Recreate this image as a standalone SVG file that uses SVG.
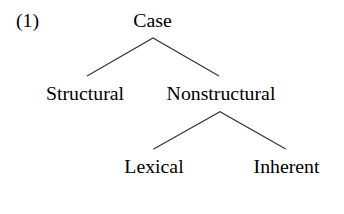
<svg xmlns="http://www.w3.org/2000/svg" width="344" height="214" viewBox="0 0 344 214">
<style>
text{font-family:"Liberation Serif","Times New Roman",serif;font-size:19.8px;fill:#000;text-anchor:middle}
.e{stroke:#333;stroke-width:1.1;fill:none}
</style>
<rect width="344" height="214" fill="#fff"/>
<text x="27.5" y="27" >(1)</text>
<g id="case"><text x="152.5" y="27">Case</text></g>
<g id="structural"><text x="85" y="100">Structural</text></g>
<g id="nonstructural"><text x="221" y="100">Nonstructural</text></g>
<g id="lexical"><text x="154" y="173">Lexical</text></g>
<g id="inherent"><text x="286.5" y="173">Inherent</text></g>
<g id="connectors">
<path class="e" d="M87 76 L153 38 L219 76"/>
<path class="e" d="M153.3 149.3 L220 111.7 L285.7 149"/>
</g>
</svg>
